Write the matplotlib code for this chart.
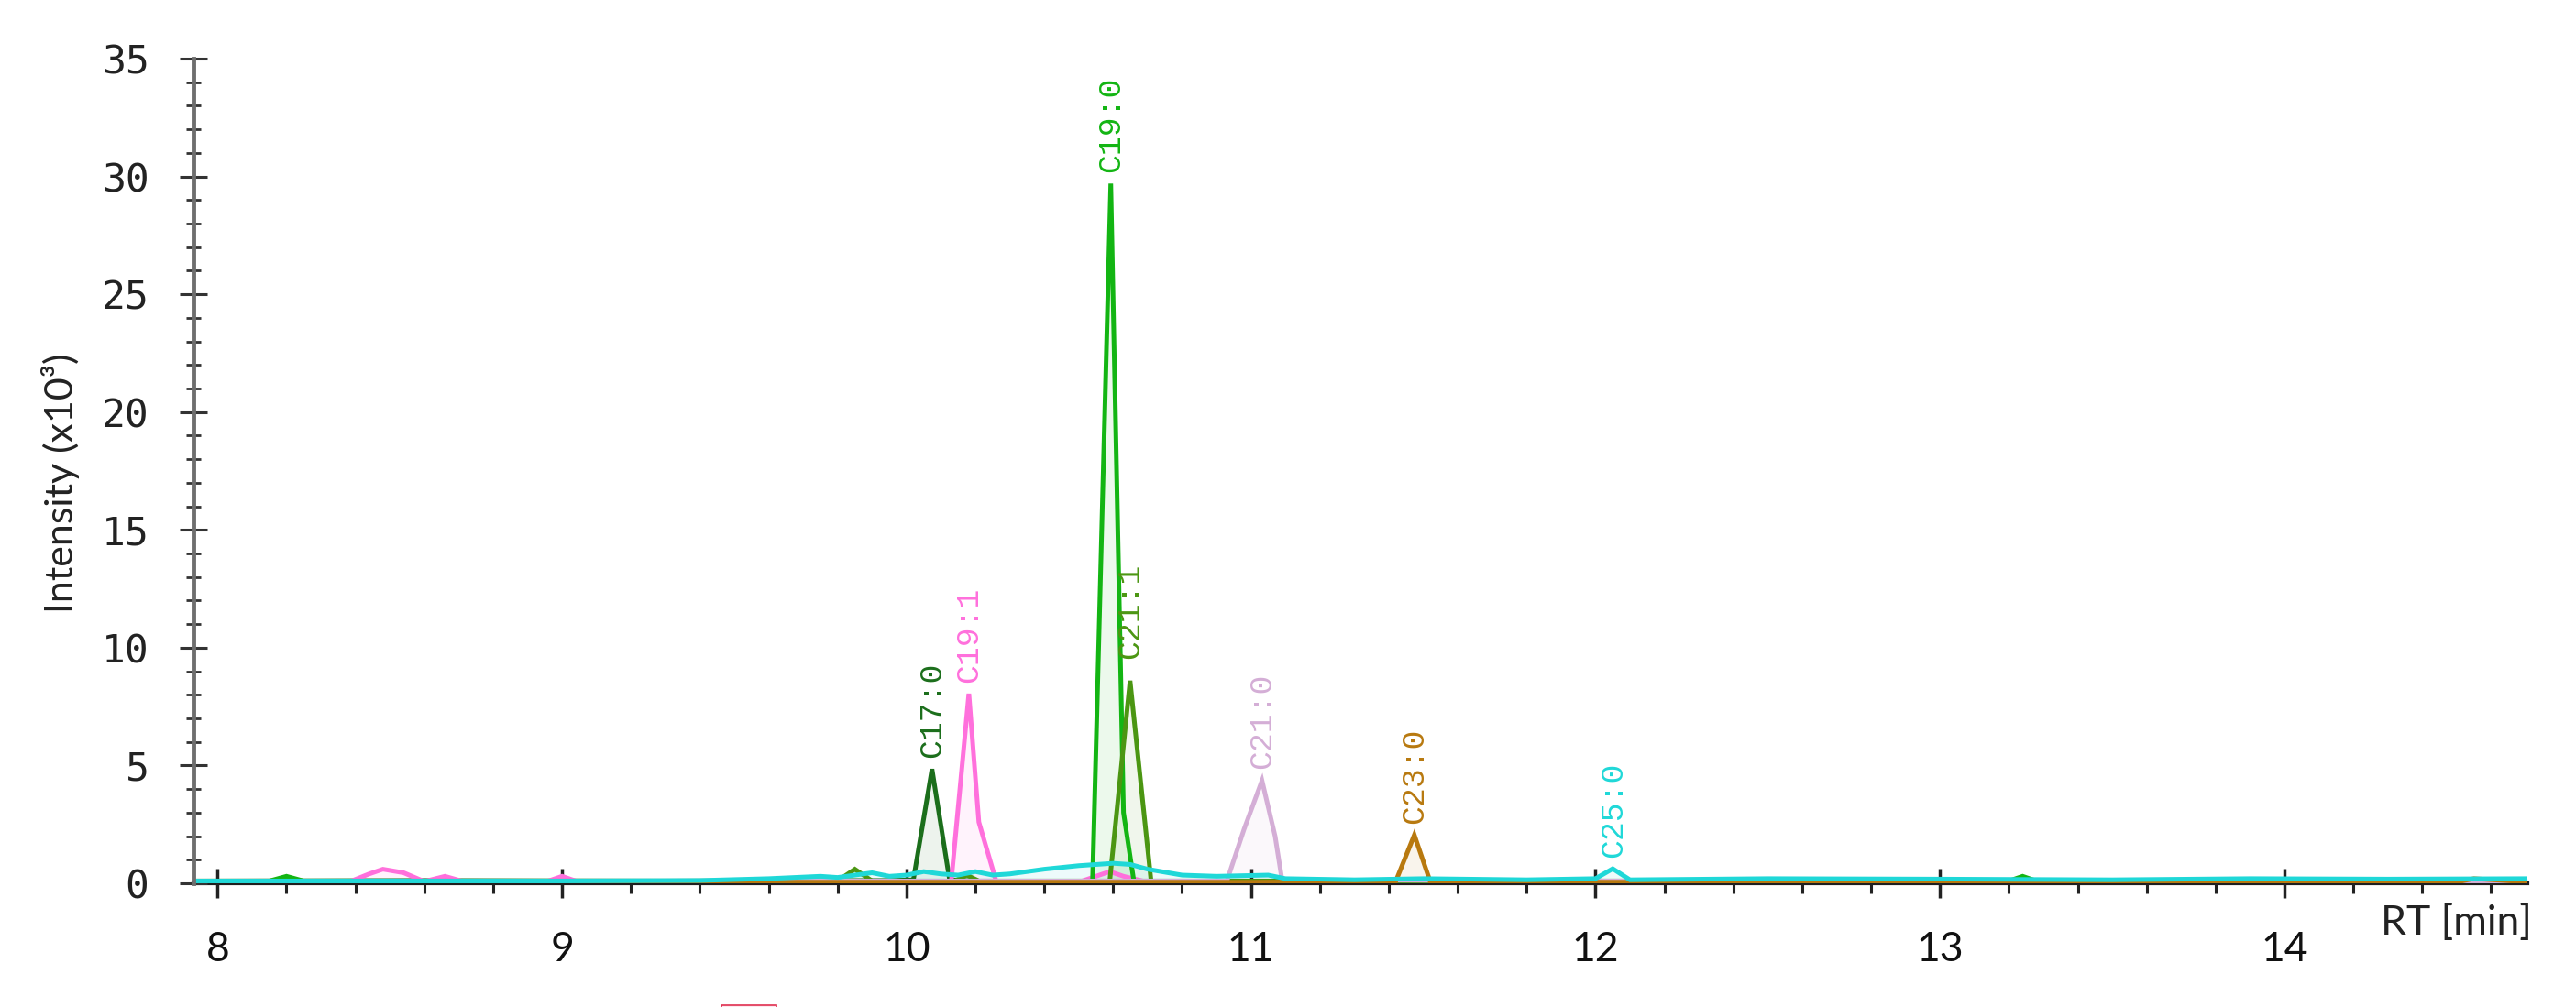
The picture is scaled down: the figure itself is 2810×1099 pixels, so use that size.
import matplotlib
matplotlib.use("Agg")
import matplotlib.pyplot as plt
from matplotlib.ticker import MultipleLocator
from matplotlib.patches import Rectangle

# chromatogram traces (RT in min, intensity in x10^3)
c17_0_rt = [7.93, 8.6, 9.3, 9.95, 10.02, 10.074, 10.125, 10.2, 11.0, 12.0, 13.0, 14.71]
c17_0_int = [0.1, 0.12, 0.1, 0.12, 0.15, 4.85, 0.15, 0.1, 0.1, 0.1, 0.1, 0.1]

c19_1_rt = [7.93, 8.38, 8.44, 8.48, 8.54, 8.6, 8.66, 8.72, 8.95, 9.0, 9.05, 9.9,
            10.13, 10.181, 10.21, 10.26, 10.5, 10.56, 10.59, 10.63, 10.7, 12.0, 14.71]
c19_1_int = [0.05, 0.05, 0.4, 0.6, 0.45, 0.08, 0.3, 0.05, 0.05, 0.3, 0.05, 0.05,
             0.1, 8.05, 2.6, 0.1, 0.05, 0.35, 0.5, 0.3, 0.05, 0.05, 0.05]

c19_0_rt = [7.93, 8.15, 8.2, 8.25, 9.5, 10.54, 10.593, 10.63, 10.66, 11.5, 13.2, 13.24, 13.28, 14.71]
c19_0_int = [0.1, 0.1, 0.3, 0.1, 0.1, 0.1, 29.7, 3.0, 0.1, 0.1, 0.1, 0.3, 0.1, 0.1]

c21_1_rt = [7.93, 9.0, 9.8, 9.85, 9.9, 10.14, 10.175, 10.21, 10.59, 10.649, 10.71, 11.0, 13.0, 14.71]
c21_1_int = [0.1, 0.1, 0.1, 0.6, 0.1, 0.1, 0.35, 0.1, 0.1, 8.6, 0.1, 0.1, 0.1, 0.1]

c21_0_rt = [7.93, 9.0, 10.93, 10.98, 11.032, 11.07, 11.09, 12.0, 14.71]
c21_0_int = [0.1, 0.1, 0.1, 2.3, 4.36, 2.0, 0.15, 0.1, 0.1]

c23_0_rt = [7.93, 9.8, 10.5, 11.0, 11.42, 11.474, 11.52, 12.0, 14.5, 14.55, 14.71]
c23_0_int = [0.05, 0.05, 0.05, 0.05, 0.08, 2.05, 0.08, 0.05, 0.05, 0.2, 0.05]

c25_0_rt = [7.93, 8.5, 9.0, 9.4, 9.6, 9.75, 9.8, 9.9, 9.95, 10.0, 10.05, 10.1, 10.15,
            10.2, 10.25, 10.3, 10.4, 10.5, 10.6, 10.65, 10.7, 10.8, 10.9, 11.05, 11.1,
            11.3, 11.5, 11.8, 12.0, 12.05, 12.1, 12.5, 13.0, 13.5, 13.9, 14.3, 14.71]
c25_0_int = [0.1, 0.1, 0.1, 0.12, 0.2, 0.3, 0.25, 0.45, 0.3, 0.35, 0.5, 0.4, 0.35,
             0.5, 0.35, 0.4, 0.6, 0.75, 0.85, 0.8, 0.6, 0.35, 0.3, 0.35, 0.2,
             0.15, 0.2, 0.15, 0.2, 0.62, 0.15, 0.2, 0.18, 0.15, 0.2, 0.18, 0.2]

names = ["C17:0", "C19:1", "C19:0", "C21:1", "C21:0", "C23:0", "C25:0"]
peak_rt = [10.074, 10.181, 10.593, 10.649, 11.032, 11.474, 12.05]
colors = ["#1b6e1b", "#ff70dc", "#13b513", "#4b9612", "#d4aed6", "#b8790f", "#1fd8d8"]
traces = [(c17_0_rt, c17_0_int), (c19_1_rt, c19_1_int), (c19_0_rt, c19_0_int),
          (c21_1_rt, c21_1_int), (c21_0_rt, c21_0_int), (c23_0_rt, c23_0_int),
          (c25_0_rt, c25_0_int)]
label_gap = [9, 9, 9, 17, 9, 9, 9]  # points between peak top and its label

fig = plt.figure(figsize=(28.1, 10.99), dpi=100)
ax = fig.add_axes([0.0751, 0.1228, 0.9060, 0.8189])

for (rt, val), col, name, prt, gap in zip(traces, colors, names, peak_rt, label_gap):
    ax.fill_between(rt, val, 0, color=col, alpha=0.08, lw=0)
    ax.plot(rt, val, color=col, lw=3.6, solid_joinstyle="miter")
    i = rt.index(prt)
    ax.annotate(name, (rt[i], val[i]), xytext=(0, gap), textcoords="offset points",
                rotation=90, ha="center", va="bottom", color=col,
                fontsize=25, family=["Liberation Mono", "DejaVu Sans Mono"])

ax.set_xlim(7.93, 14.705)
ax.set_ylim(0, 35)

for s in ["top", "right"]:
    ax.spines[s].set_visible(False)
ax.spines["left"].set_color("#6e6e6e")
ax.spines["left"].set_linewidth(3.5)
ax.spines["bottom"].set_color("#1e1e1e")
ax.spines["bottom"].set_linewidth(3)
ax.spines["bottom"].set_zorder(1)

ax.xaxis.set_major_locator(MultipleLocator(1))
ax.xaxis.set_minor_locator(MultipleLocator(0.2))
ax.yaxis.set_major_locator(MultipleLocator(5))
ax.yaxis.set_minor_locator(MultipleLocator(1))

ax.tick_params(axis="y", which="major", direction="inout", length=22, width=2.2,
               color="#333333", pad=24, labelsize=31)
ax.tick_params(axis="y", which="minor", direction="inout", length=11, width=2,
               color="#333333")
ax.tick_params(axis="x", which="major", direction="inout", length=23, width=2.5,
               color="#222222", pad=26, labelsize=32)
ax.tick_params(axis="x", which="minor", direction="out", length=8, width=2.2,
               color="#222222")

for t in ax.get_yticklabels():
    t.set_family("DejaVu Sans Mono")
    t.set_color("#222222")
for t in ax.get_xticklabels():
    t.set_family("Lato")
    t.set_color("#111111")

fig.text(0.0235, 0.52, "Intensity (x10³)", rotation=90, ha="center", va="center",
         fontsize=31, family=["Liberation Sans Narrow", "Lato"], color="#222222")
fig.text(0.983, 0.102, "RT [min]", ha="right", va="top", fontsize=32,
         family="Lato", color="#222222")

# small marker box cut off at the bottom edge
fig.patches.append(Rectangle((787 / 2810, -0.01), 60 / 2810, 0.012,
                             transform=fig.transFigure, fill=True,
                             facecolor="#fde8ee", edgecolor="#e03050", lw=1.2))

fig.savefig("out.png", dpi=100)
